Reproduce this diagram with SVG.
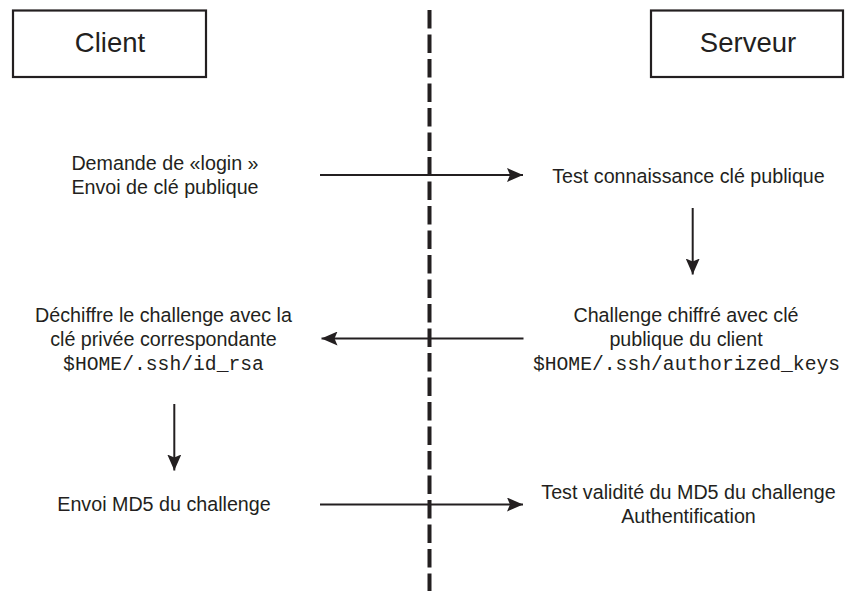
<svg xmlns="http://www.w3.org/2000/svg" width="849" height="591" viewBox="0 0 849 591">
  <style>
    .box { fill: #ffffff; stroke: #231f20; stroke-width: 2.2; }
    .title { font-family: "Liberation Sans", Arial, sans-serif; font-size: 27.5px; fill: #231f20; text-anchor: middle; }
    .lbl { font-family: "Liberation Sans", Arial, sans-serif; font-size: 19.7px; fill: #231f20; text-anchor: middle; }
    .mono { font-family: "Liberation Mono", "Courier New", monospace; font-size: 19.7px; fill: #231f20; text-anchor: middle; }
    .link { stroke: #231f20; stroke-width: 2; fill: none; marker-end: url(#head); }
    .divider { stroke: #231f20; stroke-width: 4; stroke-dasharray: 18.5 6; fill: none; }
  </style>
  <defs>
    <marker id="head" viewBox="0 0 16 14" refX="16" refY="7" markerWidth="16" markerHeight="14" markerUnits="userSpaceOnUse" orient="auto">
      <path d="M0,0 L16,7 L0,14 L3,7 Z" fill="#231f20"/>
    </marker>
  </defs>
  <rect width="849" height="591" fill="#ffffff"/>

  <!-- separator between client and server sides -->
  <line class="divider" x1="429.5" y1="10" x2="429.5" y2="591"/>

  <!-- Client header -->
  <g id="client">
    <rect class="box" x="13" y="10.5" width="193" height="66.5"/>
    <text class="title" x="110" y="52">Client</text>
  </g>

  <!-- Server header -->
  <g id="serveur">
    <rect class="box" x="651" y="10.5" width="192" height="66.5"/>
    <text class="title" x="748" y="52">Serveur</text>
  </g>

  <g id="demande-login">
    <text class="lbl" x="165" y="170">Demande de «login »</text>
    <text class="lbl" x="165" y="194">Envoi de clé publique</text>
  </g>

  <g id="test-cle">
    <text class="lbl" x="688.5" y="183">Test connaissance clé publique</text>
  </g>

  <g id="challenge-chiffre">
    <text class="lbl" x="686" y="322">Challenge chiffré avec clé</text>
    <text class="lbl" x="686" y="346">publique du client</text>
    <text class="mono" x="686.5" y="370">$HOME/.ssh/authorized_keys</text>
  </g>

  <g id="dechiffre">
    <text class="lbl" x="163.5" y="322">Déchiffre le challenge avec la</text>
    <text class="lbl" x="163.5" y="346">clé privée correspondante</text>
    <text class="mono" x="163.5" y="370">$HOME/.ssh/id_rsa</text>
  </g>

  <g id="envoi-md5">
    <text class="lbl" x="164" y="511">Envoi MD5 du challenge</text>
  </g>

  <g id="test-md5">
    <text class="lbl" x="688.5" y="498.5">Test validité du MD5 du challenge</text>
    <text class="lbl" x="688.5" y="523">Authentification</text>
  </g>

  <!-- message flow -->
  <g id="connectors">
    <line class="link" x1="320" y1="175" x2="523" y2="175"/>
    <line class="link" x1="692.7" y1="208" x2="692.7" y2="274.5"/>
    <line class="link" x1="523.5" y1="338.5" x2="321.5" y2="338.5"/>
    <line class="link" x1="174.3" y1="404" x2="174.3" y2="470.5"/>
    <line class="link" x1="320" y1="504.5" x2="523" y2="504.5"/>
  </g>
</svg>
